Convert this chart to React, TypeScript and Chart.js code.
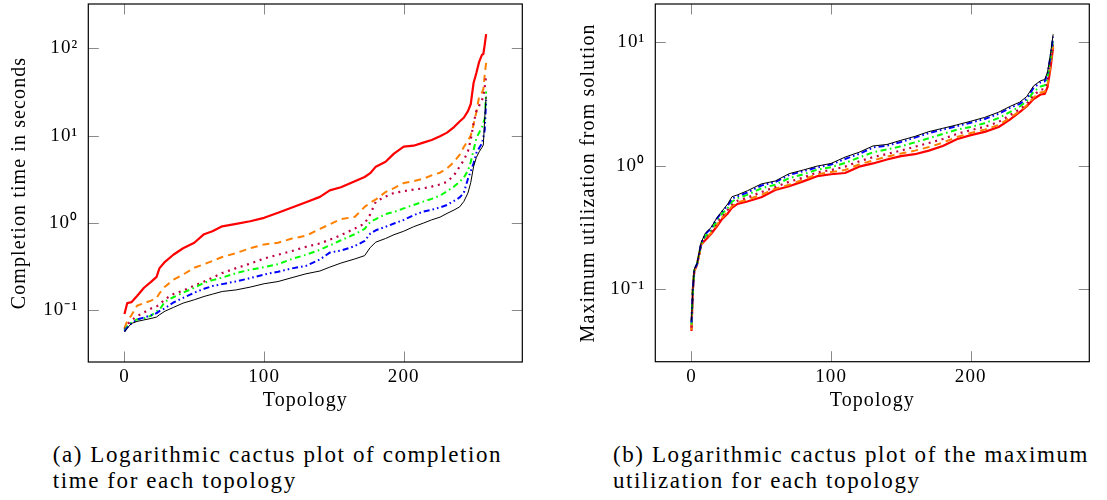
import React, { useEffect, useRef } from "react";
import { Chart, registerables } from "chart.js";

Chart.register(...registerables);

const SERIF = "'Liberation Serif', 'Times New Roman', serif";

// ---------- Chart (a): completion time ----------
const TOPO_A = [0, 2, 5, 9, 14, 19, 23, 25, 29, 35, 42, 50, 57, 63, 70, 80, 90, 100, 110, 120, 130, 140, 147, 155, 165, 172, 176, 180, 187, 193, 200, 207, 214, 220, 226, 231, 236, 240, 243, 246, 248, 250, 252, 254, 256, 257, 258, 259];
const RED_A = [0.09, 0.12, 0.123, 0.145, 0.18, 0.21, 0.24, 0.3, 0.357, 0.43, 0.51, 0.59, 0.74, 0.8, 0.91, 0.97, 1.04, 1.14, 1.3, 1.5, 1.72, 1.98, 2.35, 2.55, 3.0, 3.35, 3.7, 4.4, 5.0, 6.2, 7.45, 7.65, 8.3, 8.9, 9.8, 10.8, 12.5, 14.5, 16.0, 19.0, 23, 40, 52, 70, 84, 86, 110, 145];
const ORANGE_A = [0.062, 0.075, 0.087, 0.112, 0.12, 0.128, 0.137, 0.155, 0.185, 0.222, 0.255, 0.305, 0.335, 0.365, 0.405, 0.45, 0.51, 0.565, 0.59, 0.66, 0.71, 0.85, 0.96, 1.1, 1.17, 1.52, 1.7, 1.85, 2.25, 2.5, 2.85, 3.0, 3.2, 3.5, 3.75, 4.2, 5.0, 6.0, 7.4, 8.8, 10.0, 13.5, 18.5, 28, 31, 34, 50, 68];
const PURPLE_A = [0.06, 0.068, 0.076, 0.085, 0.094, 0.104, 0.11, 0.115, 0.133, 0.152, 0.167, 0.19, 0.212, 0.235, 0.265, 0.302, 0.34, 0.39, 0.43, 0.475, 0.53, 0.58, 0.64, 0.72, 0.86, 0.98, 1.25, 1.75, 2.0, 2.2, 2.3, 2.4, 2.48, 2.6, 2.75, 2.95, 3.5, 4.4, 5.2, 6.6, 9.0, 13.8, 19, 22, 25.5, 28, 36, 48];
const GREEN_A = [0.058, 0.065, 0.072, 0.078, 0.08, 0.086, 0.097, 0.1, 0.125, 0.14, 0.158, 0.18, 0.205, 0.22, 0.235, 0.265, 0.29, 0.31, 0.335, 0.385, 0.43, 0.49, 0.55, 0.63, 0.74, 0.85, 1.02, 1.1, 1.26, 1.33, 1.46, 1.6, 1.75, 1.88, 2.05, 2.3, 2.6, 2.95, 3.3, 3.95, 5.0, 6.8, 9.3, 10.8, 12.5, 14, 15.5, 32];
const BLUE_A = [0.057, 0.063, 0.07, 0.078, 0.082, 0.087, 0.092, 0.097, 0.105, 0.122, 0.138, 0.158, 0.175, 0.188, 0.198, 0.213, 0.232, 0.255, 0.275, 0.3, 0.32, 0.38, 0.455, 0.48, 0.54, 0.62, 0.75, 0.82, 0.9, 0.98, 1.08, 1.22, 1.34, 1.41, 1.5, 1.6, 1.78, 1.95, 2.2, 3.2, 3.9, 4.8, 6.3, 7.2, 8.1, 9.5, 11.6, 25.5];
const BLACK_A = [0.056, 0.062, 0.07, 0.074, 0.077, 0.08, 0.083, 0.088, 0.097, 0.107, 0.12, 0.131, 0.143, 0.152, 0.163, 0.17, 0.183, 0.2, 0.212, 0.235, 0.26, 0.28, 0.31, 0.345, 0.385, 0.42, 0.52, 0.6, 0.66, 0.73, 0.8, 0.9, 0.99, 1.08, 1.16, 1.28, 1.4, 1.52, 1.75, 2.2, 2.9, 4.4, 5.6, 6.5, 7.3, 7.8, 16, 28];

// ---------- Chart (b): maximum utilization ----------
const TOPO_B = [0, 1, 2, 4, 7, 10, 14, 18, 22, 26, 29, 33, 40, 50, 60, 70, 80, 90, 100, 110, 120, 130, 140, 150, 160, 170, 180, 190, 200, 210, 220, 228, 235, 240, 245, 250, 253, 255, 257, 259];
const BLACK_B = [0.056, 0.1, 0.145, 0.162, 0.24, 0.285, 0.315, 0.375, 0.43, 0.49, 0.56, 0.58, 0.625, 0.71, 0.75, 0.86, 0.92, 0.99, 1.04, 1.17, 1.28, 1.44, 1.48, 1.6, 1.72, 1.88, 2.0, 2.13, 2.28, 2.45, 2.7, 3.0, 3.25, 3.6, 4.4, 4.85, 4.95, 5.7, 7.8, 11.5];
const BLUE_B = [0.054, 0.1, 0.144, 0.16, 0.238, 0.28, 0.31, 0.37, 0.425, 0.475, 0.54, 0.565, 0.605, 0.69, 0.735, 0.84, 0.9, 0.965, 1.02, 1.13, 1.24, 1.4, 1.45, 1.55, 1.68, 1.83, 1.95, 2.08, 2.22, 2.38, 2.62, 2.92, 3.15, 3.45, 4.25, 4.7, 4.8, 5.5, 7.5, 11.0];
const GREEN_B = [0.052, 0.1, 0.143, 0.16, 0.235, 0.27, 0.3, 0.355, 0.41, 0.455, 0.51, 0.545, 0.58, 0.655, 0.7, 0.79, 0.85, 0.925, 0.97, 1.05, 1.16, 1.28, 1.35, 1.43, 1.54, 1.66, 1.8, 1.95, 2.05, 2.2, 2.42, 2.7, 3.0, 3.3, 3.95, 4.35, 4.45, 5.2, 7.2, 10.5];
const PURPLE_B = [0.049, 0.1, 0.142, 0.16, 0.232, 0.262, 0.29, 0.34, 0.39, 0.44, 0.485, 0.52, 0.55, 0.61, 0.67, 0.74, 0.8, 0.88, 0.92, 0.98, 1.08, 1.17, 1.24, 1.32, 1.42, 1.52, 1.64, 1.8, 1.93, 2.06, 2.25, 2.55, 2.85, 3.15, 3.7, 4.1, 4.15, 4.8, 6.7, 9.8];
const ORANGE_B = [0.047, 0.1, 0.141, 0.159, 0.231, 0.255, 0.285, 0.33, 0.38, 0.425, 0.47, 0.505, 0.53, 0.58, 0.65, 0.7, 0.77, 0.85, 0.885, 0.92, 1.02, 1.1, 1.18, 1.25, 1.32, 1.41, 1.53, 1.7, 1.83, 1.95, 2.13, 2.43, 2.75, 3.05, 3.55, 3.9, 3.95, 4.5, 6.3, 9.4];
const RED_B = [0.046, 0.1, 0.14, 0.158, 0.23, 0.25, 0.28, 0.32, 0.37, 0.41, 0.455, 0.49, 0.512, 0.555, 0.635, 0.68, 0.745, 0.82, 0.85, 0.87, 0.98, 1.04, 1.12, 1.19, 1.235, 1.32, 1.44, 1.63, 1.76, 1.87, 2.05, 2.35, 2.7, 3.0, 3.45, 3.75, 3.8, 4.3, 6.0, 9.0];

// ---------- axes ----------
const X_TICKS = [0, 100, 200];
const X_RANGE = [-25.9, 284.9];
const Y_TICKS_A = [0.1, 1, 10, 100];
const Y_LABELS_A = ["10\u207B\u00B9", "10\u2070", "10\u00B9", "10\u00B2"];
const Y_RANGE_A = [0.02535, 322];
const Y_TICKS_B = [0.1, 1, 10];
const Y_LABELS_B = ["10\u207B\u00B9", "10\u2070", "10\u00B9"];
const Y_RANGE_B = [0.026, 20.2];

const X_TITLE = "Topology";
const Y_TITLE_A = "Completion time in seconds";
const Y_TITLE_B = "Maximum utilization from solution";

const CAPTION_A = ["(a) Logarithmic cactus plot of completion", "time for each topology"];
const CAPTION_B = ["(b) Logarithmic cactus plot of the maximum", "utilization for each topology"];

const STYLES = {
  black: { color: "#000000", width: 1, dash: [] as number[] },
  blue: { color: "#0000ff", width: 2, dash: [6, 3, 1.6, 3, 1.6, 3] },
  green: { color: "#00ff00", width: 2, dash: [6, 3.5, 1.6, 3.5] },
  purple: { color: "#bf0040", width: 2.2, dash: [2, 4.7] },
  orange: { color: "#ff8000", width: 2, dash: [7, 5] },
  red: { color: "#ff0000", width: 2.2, dash: [] as number[] },
};

const SERIES_A = [
  { label: "black", values: BLACK_A, ...STYLES.black },
  { label: "blue", values: BLUE_A, ...STYLES.blue },
  { label: "green", values: GREEN_A, ...STYLES.green },
  { label: "purple", values: PURPLE_A, ...STYLES.purple },
  { label: "orange", values: ORANGE_A, ...STYLES.orange },
  { label: "red", values: RED_A, ...STYLES.red },
];
const SERIES_B = [
  { label: "black", values: BLACK_B, ...STYLES.black },
  { label: "blue", values: BLUE_B, ...STYLES.blue },
  { label: "green", values: GREEN_B, ...STYLES.green },
  { label: "purple", values: PURPLE_B, ...STYLES.purple },
  { label: "orange", values: ORANGE_B, ...STYLES.orange },
  { label: "red", values: RED_B, ...STYLES.red },
];

const TICK_LEN = 10.5;

const framePlugin = {
  id: "pgfFrame",
  beforeDraw(chart: any) {
    chart.ctx.letterSpacing = "1.1px";
  },
  afterDatasetsDraw(chart: any) {
    const { ctx, chartArea: a, scales } = chart;
    ctx.save();
    ctx.strokeStyle = "#8a8a8a";
    ctx.lineWidth = 1;
    ctx.beginPath();
    for (const t of scales.x.ticks) {
      const px = Math.round(scales.x.getPixelForValue(t.value)) + 0.5;
      ctx.moveTo(px, a.bottom);
      ctx.lineTo(px, a.bottom - TICK_LEN);
      ctx.moveTo(px, a.top);
      ctx.lineTo(px, a.top + TICK_LEN);
    }
    for (const t of scales.y.ticks) {
      const py = Math.round(scales.y.getPixelForValue(t.value)) + 0.5;
      ctx.moveTo(a.left, py);
      ctx.lineTo(a.left + TICK_LEN, py);
      ctx.moveTo(a.right, py);
      ctx.lineTo(a.right - TICK_LEN, py);
    }
    ctx.stroke();
    ctx.strokeStyle = "#000000";
    ctx.lineWidth = 1.2;
    ctx.strokeRect(a.left, a.top, a.right - a.left, a.bottom - a.top);
    ctx.restore();
  },
};

function zeroPadding(s: any) {
  s.paddingTop = 0;
  s.paddingBottom = 0;
  s.paddingLeft = 0;
  s.paddingRight = 0;
}

type Props = {
  left: number;
  width: number;
  height: number;
  area: { left: number; right: number; top: number; bottom: number };
  topo: number[];
  series: { label: string; values: number[]; color: string; width: number; dash: number[] }[];
  yRange: number[];
  yTicks: number[];
  yLabels: string[];
  yTitle: string;
  yTitlePad: number;
};

function CactusChart(p: Props) {
  const ref = useRef<HTMLCanvasElement | null>(null);
  useEffect(() => {
    if (!ref.current) return;
    const chart = new Chart(ref.current, {
      type: "line",
      data: {
        datasets: p.series.map((s) => ({
          label: s.label,
          data: p.topo.map((x, i) => ({ x, y: s.values[i] })),
          borderColor: s.color,
          backgroundColor: s.color,
          borderWidth: s.width,
          borderDash: s.dash,
          borderCapStyle: "butt",
          borderJoinStyle: "round",
          pointRadius: 0,
          tension: 0,
          fill: false,
        })),
      },
      options: {
        animation: false,
        responsive: false,
        maintainAspectRatio: false,
        devicePixelRatio: 1,
        layout: { padding: { left: 0, top: p.area.top, right: p.width - p.area.right, bottom: 0 } },
        plugins: { legend: { display: false }, tooltip: { enabled: false } },
        scales: {
          x: {
            type: "linear",
            min: X_RANGE[0],
            max: X_RANGE[1],
            afterBuildTicks: (s: any) => {
              s.ticks = X_TICKS.map((v) => ({ value: v }));
            },
            afterFit: (s: any) => {
              s.height = p.height - p.area.bottom;
              zeroPadding(s);
            },
            grid: { display: false, drawTicks: false },
            border: { display: false },
            ticks: {
              padding: 4,
              color: "#000",
              maxRotation: 0,
              autoSkip: false,
              font: { family: SERIF, size: 19 },
              callback: (v: any) => String(v),
            },
            title: {
              display: true,
              text: X_TITLE,
              color: "#000",
              font: { family: SERIF, size: 20 },
              padding: { top: 0, bottom: 17.4 },
            },
          },
          y: {
            type: "logarithmic",
            min: p.yRange[0],
            max: p.yRange[1],
            afterBuildTicks: (s: any) => {
              s.ticks = p.yTicks.map((v) => ({ value: v }));
            },
            afterFit: (s: any) => {
              s.width = p.area.left;
              zeroPadding(s);
            },
            grid: { display: false, drawTicks: false },
            border: { display: false },
            ticks: {
              padding: 10,
              color: "#000",
              autoSkip: false,
              font: { family: SERIF, size: 19 },
              callback: (v: any) => {
                const i = p.yTicks.indexOf(Number(v));
                return i >= 0 ? p.yLabels[i] : "";
              },
            },
            title: {
              display: true,
              text: p.yTitle,
              color: "#000",
              font: { family: SERIF, size: 20 },
              padding: { top: p.yTitlePad, bottom: 0 },
            },
          },
        },
      } as any,
      plugins: [framePlugin],
    });
    return () => chart.destroy();
  }, []);
  return (
    <canvas
      ref={ref}
      width={p.width}
      height={p.height}
      style={{ position: "absolute", left: p.left, top: 0, width: p.width, height: p.height, display: "block" }}
    />
  );
}

const captionStyle: React.CSSProperties = {
  position: "absolute",
  top: 442,
  fontFamily: SERIF,
  fontSize: 23,
  lineHeight: "26px",
  letterSpacing: "1.6px",
  whiteSpace: "nowrap",
  color: "#000",
};

export default function App() {
  return (
    <div style={{ position: "fixed", left: 0, top: 0, width: 1107, height: 500, background: "#fff", overflow: "hidden" }}>
      <CactusChart
        left={0}
        width={545}
        height={430}
        area={{ left: 88.3, right: 522.3, top: 4, bottom: 362 }}
        topo={TOPO_A}
        series={SERIES_A}
        yRange={Y_RANGE_A}
        yTicks={Y_TICKS_A}
        yLabels={Y_LABELS_A}
        yTitle={Y_TITLE_A}
        yTitlePad={7.3}
      />
      <CactusChart
        left={570}
        width={537}
        height={430}
        area={{ left: 85.3, right: 519.3, top: 4, bottom: 361.7 }}
        topo={TOPO_B}
        series={SERIES_B}
        yRange={Y_RANGE_B}
        yTicks={Y_TICKS_B}
        yLabels={Y_LABELS_B}
        yTitle={Y_TITLE_B}
        yTitlePad={6.3}
      />
      <div style={{ ...captionStyle, left: 52.7 }}>
        {CAPTION_A[0]}
        <br />
        {CAPTION_A[1]}
      </div>
      <div style={{ ...captionStyle, left: 613 }}>
        {CAPTION_B[0]}
        <br />
        {CAPTION_B[1]}
      </div>
    </div>
  );
}
